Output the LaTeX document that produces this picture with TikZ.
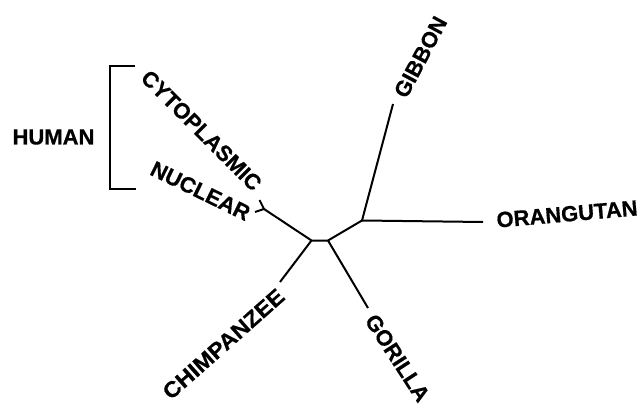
\documentclass[tikz,border=0pt]{standalone}
\usepackage{fontspec}
\setmainfont{Liberation Sans}
% heavy face for the taxon names
\newfontfamily\labelfont[FakeBold=0.6]{Liberation Sans Bold}
\begin{document}
\begin{tikzpicture}[x=1pt,y=-1pt,
  branch/.style={line width=2pt,line cap=butt,line join=miter},
  taxon/.style={font=\labelfont\fontsize{22}{22}\selectfont,inner sep=0pt}]
\useasboundingbox (0,0) rectangle (642,406);

% inner vertices of the tree
\coordinate (hfork) at (264,209);
\coordinate (harmc) at (259.5,200);
\coordinate (harmn) at (255,212);
\coordinate (ja) at (311.5,240.5);
\coordinate (jb) at (328,240.5);
\coordinate (jc) at (362,220.5);
% leaf ends
\coordinate (tgib) at (393,104);
\coordinate (tora) at (483,222);
\coordinate (tchi) at (280,282);
\coordinate (tgor) at (368,308);

% branches
\draw[branch] (harmc) -- (hfork) -- (harmn);
\draw[branch] (hfork) -- (ja) -- (jb) -- (jc);
\draw[branch] (jc) -- (tgib);
\draw[branch] (jc) -- (tora);
\draw[branch] (ja) -- (tchi);
\draw[branch] (jb) -- (tgor);

% bracket grouping the two human sequences
\coordinate (bt) at (135,66.5);
\coordinate (bb) at (136,189.5);
\draw[branch] (bt) -- (110,66.5) -- (110,189.5) -- (bb);

% labels
\node[taxon] (human) at (53.5,137) {HUMAN};
\node[taxon,rotate=-45] (cyto) at (201.5,130.5) {CYTOPLASMIC};
\node[taxon,rotate=-26] (nucl) at (200.5,191) {NUCLEAR};
\node[taxon,rotate=62] (gibbon) at (420.5,57) {GIBBON};
\node[taxon,rotate=5] (orang) at (567,214) {ORANGUTAN};
\node[taxon,rotate=41.5,xscale=1.07] (chimp) at (223.5,344) {CHIMPANZEE};
\node[taxon,rotate=-57] (gorilla) at (397.5,358) {GORILLA};
\end{tikzpicture}
\end{document}
